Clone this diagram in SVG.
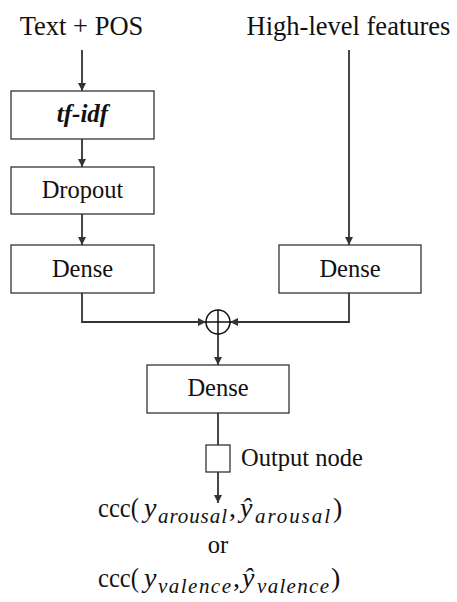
<svg xmlns="http://www.w3.org/2000/svg" width="457" height="602" viewBox="0 0 457 602">
<defs>
<marker id="ah" viewBox="0 0 10 10" refX="10" refY="5" markerWidth="8" markerHeight="8" markerUnits="userSpaceOnUse" orient="auto">
<path d="M0,0 L10,5 L0,10 z" fill="#333"/>
</marker>
</defs>
<style>
.box{fill:#fff;stroke:#333;stroke-width:1.3}
.ln{fill:none;stroke:#333;stroke-width:1.8}
text{fill:#111}
.lbl{font-size:24.5px}
.m{font-size:28px}
.mi{font-style:italic}
.s{font-size:21px;font-style:italic}
</style>
<rect width="457" height="602" fill="#fff"/>
<g font-family="'Liberation Serif', 'Times New Roman', serif">
<text font-size="26.5" x="81.5" y="35" text-anchor="middle">Text + POS</text>
<text font-size="26.5" x="348.5" y="35" text-anchor="middle">High-level features</text>
<g id="connectors">
<line class="ln" x1="82" y1="50" x2="82" y2="91" marker-end="url(#ah)"/>
<line class="ln" x1="82" y1="139" x2="82" y2="167" marker-end="url(#ah)"/>
<line class="ln" x1="82" y1="214" x2="82" y2="245" marker-end="url(#ah)"/>
<line class="ln" x1="349" y1="50" x2="349" y2="245" marker-end="url(#ah)"/>
<polyline class="ln" points="82,293 82,322 206,322" marker-end="url(#ah)"/>
<polyline class="ln" points="349,293 349,322 230,322" marker-end="url(#ah)"/>
<line class="ln" x1="218" y1="334" x2="218" y2="365" marker-end="url(#ah)"/>
<line class="ln" x1="218" y1="413" x2="218" y2="445"/>
<line class="ln" x1="218" y1="472" x2="218" y2="503" marker-end="url(#ah)"/>
</g>
<g id="tfidf">
<rect class="box" x="11" y="91" width="143" height="48"/>
<text font-size="25" x="82.5" y="122" text-anchor="middle" font-weight="bold" font-style="italic">tf-idf</text>
</g>
<g id="dropout">
<rect class="box" x="11" y="167" width="143" height="47"/>
<text class="lbl" x="82.5" y="198" text-anchor="middle">Dropout</text>
</g>
<g id="dense-left">
<rect class="box" x="11" y="245" width="143" height="48"/>
<text class="lbl" x="82.5" y="277" text-anchor="middle">Dense</text>
</g>
<g id="dense-right">
<rect class="box" x="279" y="245" width="142" height="48"/>
<text class="lbl" x="350" y="277" text-anchor="middle">Dense</text>
</g>
<g id="concat">
<circle cx="218" cy="322" r="12" fill="#fff" stroke="#111" stroke-width="1.5"/>
<line x1="206" y1="322" x2="230" y2="322" stroke="#111" stroke-width="1.5"/>
<line x1="218" y1="310" x2="218" y2="334" stroke="#111" stroke-width="1.5"/>
</g>
<g id="dense-bottom">
<rect class="box" x="147" y="365" width="142" height="48"/>
<text class="lbl" x="218" y="396" text-anchor="middle">Dense</text>
</g>
<g id="output-node">
<rect class="box" x="206" y="445" width="24" height="27"/>
<text class="lbl" x="241" y="466">Output node</text>
</g>
<g id="loss">
<text class="m" x="98" y="517"><tspan textLength="41" lengthAdjust="spacingAndGlyphs">ccc(</tspan><tspan class="mi" x="144">y</tspan><tspan class="s" x="158" y="523" textLength="69" lengthAdjust="spacing">arousal</tspan><tspan x="229" y="517">,</tspan><tspan class="mi" x="240">ŷ</tspan><tspan class="s" x="255" y="523" textLength="75" lengthAdjust="spacing">arousal</tspan><tspan x="333" y="517">)</tspan></text>
<text class="lbl" x="218" y="553" text-anchor="middle">or</text>
<text class="m" x="98" y="587"><tspan textLength="41" lengthAdjust="spacingAndGlyphs">ccc(</tspan><tspan class="mi" x="144">y</tspan><tspan class="s" x="158" y="593" textLength="73" lengthAdjust="spacing">valence</tspan><tspan x="233" y="587">,</tspan><tspan class="mi" x="242">ŷ</tspan><tspan class="s" x="257" y="593" textLength="72" lengthAdjust="spacing">valence</tspan><tspan x="331" y="587">)</tspan></text>
</g>
</g>
</svg>
